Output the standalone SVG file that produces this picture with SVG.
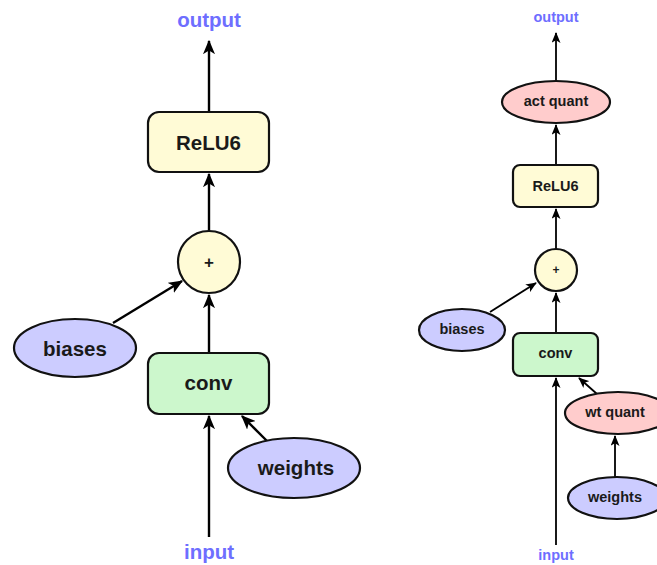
<svg xmlns="http://www.w3.org/2000/svg" width="657" height="565" viewBox="0 0 657 565">
  <style>
    .lbl { font-family: "Liberation Sans", Arial, sans-serif; font-weight: bold; fill: #1a1a1a; text-anchor: middle; dominant-baseline: central; }
    .io { font-family: "Liberation Sans", Arial, sans-serif; font-weight: bold; fill: #6e6eff; text-anchor: middle; dominant-baseline: central; }
    .big { font-size: 20.5px; }
    .small { font-size: 14.5px; }
    .op { fill: #fffbd6; stroke: #111; stroke-width: 2.2; }
    .conv { fill: #ccf7cc; stroke: #111; stroke-width: 2.2; }
    .param { fill: #ccccff; stroke: #111; stroke-width: 2.2; }
    .quant { fill: #ffcccc; stroke: #111; stroke-width: 2.2; }
    .edge { stroke: #000; stroke-width: 2.4; fill: none; marker-end: url(#arrow); }
    .edge2 { stroke: #000; stroke-width: 1.8; fill: none; marker-end: url(#arrow); }
  </style>
  <defs>
    <marker id="arrow" viewBox="0 0 12 10" refX="11" refY="5" markerWidth="6" markerHeight="5" orient="auto" markerUnits="strokeWidth">
      <path d="M0,0 L12,5 L0,10 L3,5 Z" fill="#000"/>
    </marker>
  </defs>

  <!-- float graph -->
  <g id="edges-float">
    <line class="edge" x1="209" y1="537" x2="209" y2="416"/>
    <line class="edge" x1="267" y1="441" x2="242" y2="416"/>
    <line class="edge" x1="209" y1="353" x2="209" y2="295"/>
    <line class="edge" x1="113" y1="323" x2="182" y2="281"/>
    <line class="edge" x1="209" y1="231" x2="209" y2="174"/>
    <line class="edge" x1="209" y1="112" x2="209" y2="41"/>
  </g>
  <g id="f-output"><text class="io big" x="209" y="19">output</text></g>
  <g id="f-relu6">
    <rect class="op" x="148" y="112" width="121" height="60" rx="11"/>
    <text class="lbl big" x="208.5" y="142">ReLU6</text>
  </g>
  <g id="f-add">
    <circle class="op" cx="209" cy="262" r="31"/>
    <text class="lbl" style="font-size:17px" x="209" y="262">+</text>
  </g>
  <g id="f-biases">
    <ellipse class="param" cx="75" cy="348" rx="61" ry="29"/>
    <text class="lbl big" x="75" y="348">biases</text>
  </g>
  <g id="f-conv">
    <rect class="conv" x="148" y="353" width="121" height="61" rx="11"/>
    <text class="lbl big" x="208.5" y="382">conv</text>
  </g>
  <g id="f-weights">
    <ellipse class="param" cx="294" cy="468" rx="66" ry="30"/>
    <text class="lbl big" x="296" y="467">weights</text>
  </g>
  <g id="f-input"><text class="io big" x="209" y="551">input</text></g>

  <!-- quantized graph -->
  <g id="edges-quant">
    <line class="edge2" x1="556" y1="545" x2="556" y2="378"/>
    <line class="edge2" x1="597" y1="394" x2="579" y2="378"/>
    <line class="edge2" x1="615" y1="477" x2="615" y2="436"/>
    <line class="edge2" x1="556" y1="333" x2="556" y2="293"/>
    <line class="edge2" x1="490" y1="312" x2="536" y2="283"/>
    <line class="edge2" x1="556" y1="249" x2="556" y2="209"/>
    <line class="edge2" x1="556" y1="165" x2="556" y2="125"/>
    <line class="edge2" x1="556" y1="81" x2="556" y2="33"/>
  </g>
  <g id="q-output"><text class="io small" x="556" y="17">output</text></g>
  <g id="q-actquant">
    <ellipse class="quant" cx="556" cy="102" rx="54" ry="21"/>
    <text class="lbl small" x="556" y="101">act quant</text>
  </g>
  <g id="q-relu6">
    <rect class="op" x="513" y="165" width="85" height="42" rx="7"/>
    <text class="lbl small" x="555.5" y="186">ReLU6</text>
  </g>
  <g id="q-add">
    <circle class="op" cx="556" cy="270" r="21"/>
    <text class="lbl" style="font-size:12px" x="556" y="270">+</text>
  </g>
  <g id="q-biases">
    <ellipse class="param" cx="462" cy="330" rx="43" ry="21"/>
    <text class="lbl small" x="462" y="329">biases</text>
  </g>
  <g id="q-conv">
    <rect class="conv" x="513" y="333" width="85" height="43" rx="7"/>
    <text class="lbl small" x="555.5" y="353">conv</text>
  </g>
  <g id="q-wtquant">
    <ellipse class="quant" cx="618" cy="413" rx="53" ry="21"/>
    <text class="lbl small" x="615" y="412">wt quant</text>
  </g>
  <g id="q-weights">
    <ellipse class="param" cx="617" cy="498" rx="49" ry="21"/>
    <text class="lbl small" x="615" y="497">weights</text>
  </g>
  <g id="q-input"><text class="io small" x="556" y="555">input</text></g>
</svg>
